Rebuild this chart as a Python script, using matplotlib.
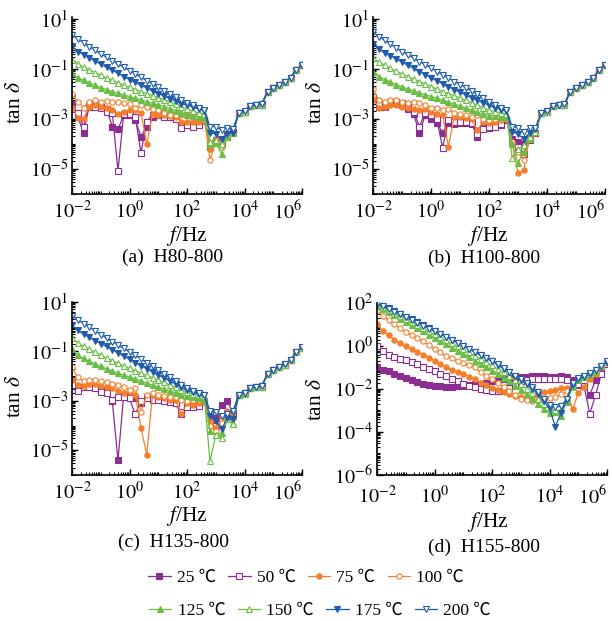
import numpy as np
import matplotlib
matplotlib.use("Agg")
import matplotlib.pyplot as plt
from matplotlib.ticker import FixedLocator, LogLocator, NullFormatter, FuncFormatter
from matplotlib.lines import Line2D

plt.rcParams['font.family'] = ['Liberation Serif', 'Noto Sans CJK SC', 'DejaVu Sans']
plt.rcParams['mathtext.fontset'] = 'stix'

# measurement frequencies, log10(f / Hz), 5 points per decade
LOG_F = [-2.0, -1.8, -1.6, -1.4, -1.2, -1.0, -0.8, -0.6, -0.4, -0.2,
         0.0, 0.2, 0.4, 0.6, 0.8, 1.0, 1.2, 1.4, 1.6, 1.8,
         2.0, 2.2, 2.4, 2.6, 2.8, 3.0, 3.2, 3.4, 3.6, 3.8,
         4.0, 4.2, 4.4, 4.6, 4.8, 5.0, 5.2, 5.4, 5.6, 5.8, 6.0]

TEMPS = ['25', '50', '75', '100', '125', '150', '175', '200']

# log10(tan delta) for each temperature
# (a) H80-800
A_25 = [-2.4, -2.9, -3.55, -2.45, -2.45, -2.5, -2.6, -3.3, -3.4, -2.85,
        -2.85, -3.05, -3.7, -3.3, -2.9, -2.85, -2.85, -2.9, -2.9, -3.2,
        -3.2, -3.25, -3.2, -3.05, -4.1, -3.85, -4.0, -3.7, -3.5, -2.76,
        -2.7, -2.48, -2.44, -2.42, -1.91, -1.75, -1.65, -1.53, -1.36, -1.03, -0.85]
A_50 = [-2.6, -2.75, -3.3, -2.5, -2.5, -2.55, -2.7, -2.75, -5.07, -2.8,
        -2.8, -2.9, -4.35, -3.1, -2.85, -2.85, -2.9, -2.9, -3.0, -3.35,
        -3.25, -3.3, -3.25, -3.05, -4.0, -3.9, -3.95, -3.65, -3.5, -2.76,
        -2.7, -2.48, -2.44, -2.42, -1.91, -1.75, -1.65, -1.53, -1.36, -1.03, -0.85]
A_75 = [-2.55, -2.95, -3.0, -2.5, -2.45, -2.5, -2.55, -2.65, -2.8, -2.7,
        -2.65, -2.65, -2.75, -4.0, -2.8, -2.85, -2.85, -2.88, -2.9, -3.1,
        -3.1, -3.1, -3.1, -3.0, -4.2, -3.8, -4.0, -3.65, -3.5, -2.76,
        -2.7, -2.48, -2.44, -2.42, -1.91, -1.75, -1.65, -1.53, -1.36, -1.03, -0.85]
A_100 = [-2.0, -2.3, -2.55, -2.3, -2.25, -2.3, -2.27, -2.3, -2.33, -2.35,
         -2.4, -2.55, -2.45, -2.5, -2.6, -2.65, -2.75, -2.85, -2.85, -2.85,
         -2.85, -2.83, -2.85, -2.9, -4.64, -3.9, -4.1, -3.7, -3.55, -2.76,
         -2.7, -2.48, -2.44, -2.42, -1.91, -1.75, -1.65, -1.53, -1.36, -1.03, -0.85]
A_125 = [-1.15, -1.35, -1.45, -1.55, -1.65, -1.74, -1.82, -1.9, -1.97, -2.04,
         -2.1, -2.17, -2.24, -2.3, -2.37, -2.43, -2.5, -2.58, -2.66, -2.74,
         -2.82, -2.87, -2.9, -2.93, -4.0, -3.95, -4.4, -3.7, -3.55, -2.77,
         -2.71, -2.49, -2.45, -2.43, -1.91, -1.75, -1.65, -1.53, -1.36, -1.03, -0.85]
A_150 = [-0.62, -0.8, -0.92, -1.03, -1.14, -1.25, -1.35, -1.45, -1.55, -1.64,
         -1.73, -1.82, -1.9, -1.98, -2.06, -2.14, -2.22, -2.3, -2.4, -2.5,
         -2.6, -2.68, -2.75, -2.8, -3.9, -3.85, -4.0, -3.6, -3.5, -2.76,
         -2.7, -2.48, -2.44, -2.42, -1.9, -1.75, -1.65, -1.53, -1.36, -1.03, -0.85]
A_175 = [-0.08, -0.3, -0.42, -0.55, -0.68, -0.8, -0.93, -1.05, -1.17, -1.3,
         -1.42, -1.53, -1.65, -1.76, -1.88, -1.98, -2.08, -2.18, -2.28, -2.38,
         -2.45, -2.52, -2.6, -2.66, -3.55, -3.6, -3.8, -3.6, -3.55, -2.75,
         -2.69, -2.47, -2.43, -2.41, -1.9, -1.74, -1.64, -1.52, -1.35, -1.02, -0.84]
A_200 = [0.36, 0.2, 0.05, -0.1, -0.25, -0.4, -0.53, -0.67, -0.8, -0.93,
         -1.06, -1.2, -1.33, -1.46, -1.6, -1.73, -1.87, -2.0, -2.12, -2.25,
         -2.37, -2.45, -2.55, -2.62, -3.3, -3.3, -3.45, -3.35, -3.4, -2.75,
         -2.69, -2.47, -2.43, -2.41, -1.9, -1.74, -1.64, -1.52, -1.35, -1.02, -0.84]

# (b) H100-800
B_25 = [-2.2, -2.5, -2.5, -2.35, -2.35, -2.45, -2.6, -2.8, -3.55, -2.85,
        -3.0, -3.15, -3.55, -3.15, -3.2, -3.15, -3.15, -3.2, -3.7, -3.35,
        -3.35, -3.3, -3.25, -3.05, -3.8, -3.9, -4.0, -3.85, -3.55, -2.76,
        -2.7, -2.48, -2.44, -2.42, -1.91, -1.75, -1.65, -1.53, -1.36, -1.03, -0.85]
B_50 = [-2.1, -2.45, -2.4, -2.3, -2.3, -2.35, -2.5, -2.7, -3.3, -2.75,
        -2.85, -3.0, -4.15, -3.05, -3.1, -3.1, -3.1, -3.15, -3.6, -3.4,
        -3.3, -3.3, -3.2, -3.0, -3.9, -4.1, -4.4, -3.75, -3.55, -2.76,
        -2.7, -2.48, -2.44, -2.42, -1.91, -1.75, -1.65, -1.53, -1.36, -1.03, -0.85]
B_75 = [-2.2, -2.55, -2.5, -2.45, -2.45, -2.5, -2.55, -2.6, -2.65, -2.6,
        -2.7, -2.8, -2.85, -4.1, -2.9, -2.9, -2.95, -3.0, -3.45, -3.1,
        -3.15, -3.1, -3.05, -3.0, -4.0, -5.15, -5.05, -3.7, -3.5, -2.76,
        -2.7, -2.48, -2.44, -2.42, -1.91, -1.75, -1.65, -1.53, -1.36, -1.03, -0.85]
B_100 = [-1.8, -2.25, -2.3, -2.25, -2.25, -2.3, -2.35, -2.3, -2.35, -2.45,
         -2.55, -2.55, -2.65, -2.6, -2.75, -2.8, -2.85, -2.9, -2.85, -3.0,
         -3.05, -3.0, -3.0, -2.95, -3.9, -4.3, -4.65, -3.8, -3.55, -2.76,
         -2.7, -2.48, -2.44, -2.42, -1.91, -1.75, -1.65, -1.53, -1.36, -1.03, -0.85]
B_125 = [-1.1, -1.3, -1.42, -1.52, -1.62, -1.72, -1.8, -1.88, -1.95, -2.03,
         -2.1, -2.17, -2.25, -2.33, -2.4, -2.48, -2.56, -2.64, -2.72, -2.8,
         -2.86, -2.88, -2.9, -2.92, -4.0, -4.75, -4.3, -3.8, -3.5, -2.77,
         -2.71, -2.49, -2.45, -2.43, -1.91, -1.75, -1.65, -1.53, -1.36, -1.03, -0.85]
B_150 = [-0.55, -0.72, -0.85, -0.97, -1.08, -1.2, -1.3, -1.4, -1.5, -1.6,
         -1.7, -1.8, -1.9, -1.98, -2.07, -2.15, -2.25, -2.35, -2.45, -2.55,
         -2.65, -2.7, -2.75, -2.8, -4.55, -4.2, -4.05, -3.7, -3.5, -2.76,
         -2.7, -2.48, -2.44, -2.42, -1.9, -1.75, -1.65, -1.53, -1.36, -1.03, -0.85]
B_175 = [0.0, -0.2, -0.35, -0.47, -0.6, -0.72, -0.85, -0.97, -1.1, -1.22,
         -1.35, -1.47, -1.58, -1.7, -1.82, -1.93, -2.04, -2.15, -2.25, -2.35,
         -2.45, -2.55, -2.62, -2.68, -3.5, -3.6, -3.8, -3.55, -3.4, -2.75,
         -2.69, -2.47, -2.43, -2.41, -1.9, -1.74, -1.64, -1.52, -1.35, -1.02, -0.84]
B_200 = [0.47, 0.3, 0.15, 0.0, -0.15, -0.3, -0.43, -0.56, -0.7, -0.83,
         -0.96, -1.1, -1.23, -1.36, -1.5, -1.62, -1.75, -1.88, -2.0, -2.15,
         -2.3, -2.45, -2.57, -2.65, -3.3, -3.35, -3.5, -3.35, -3.35, -2.75,
         -2.69, -2.47, -2.43, -2.41, -1.9, -1.74, -1.64, -1.52, -1.35, -1.02, -0.84]

# (c) H135-800
C_25 = [-2.2, -2.5, -2.45, -2.4, -2.45, -2.6, -2.55, -3.0, -5.41, -2.75,
        -2.8, -2.9, -3.1, -2.85, -2.85, -2.9, -2.95, -3.05, -3.1, -3.55,
        -3.2, -3.2, -3.15, -3.0, -3.45, -3.7, -3.15, -3.0, -3.5, -2.76,
        -2.7, -2.48, -2.44, -2.42, -1.91, -1.75, -1.65, -1.53, -1.36, -1.03, -0.85]
C_50 = [-2.35, -2.6, -2.45, -2.45, -2.5, -2.65, -2.7, -2.95, -2.85, -2.85,
        -2.9, -3.55, -3.0, -2.9, -2.95, -2.95, -3.0, -3.05, -3.1, -3.45,
        -3.25, -3.25, -3.2, -3.0, -3.5, -4.0, -3.7, -3.5, -3.6, -2.76,
        -2.7, -2.48, -2.44, -2.42, -1.91, -1.75, -1.65, -1.53, -1.36, -1.03, -0.85]
C_75 = [-2.15, -2.35, -2.4, -2.3, -2.3, -2.4, -2.45, -2.5, -2.6, -2.7,
        -2.65, -2.75, -4.1, -5.18, -2.75, -2.85, -2.9, -2.95, -2.95, -3.55,
        -3.1, -3.15, -3.1, -3.0, -3.8, -4.1, -3.6, -3.4, -3.6, -2.76,
        -2.7, -2.48, -2.44, -2.42, -1.91, -1.75, -1.65, -1.53, -1.36, -1.03, -0.85]
C_100 = [-1.65, -2.05, -2.2, -2.15, -2.15, -2.2, -2.25, -2.3, -2.35, -2.45,
         -2.55, -2.5, -3.45, -2.75, -2.7, -2.75, -2.8, -2.85, -2.85, -2.95,
         -3.0, -2.95, -2.95, -2.95, -4.0, -4.2, -3.9, -3.55, -3.7, -2.76,
         -2.7, -2.48, -2.44, -2.42, -1.91, -1.75, -1.65, -1.53, -1.36, -1.03, -0.85]
C_125 = [-0.92, -1.15, -1.28, -1.4, -1.5, -1.6, -1.7, -1.8, -1.88, -1.96,
         -2.04, -2.12, -2.2, -2.28, -2.36, -2.44, -2.52, -2.6, -2.68, -2.76,
         -2.82, -2.86, -2.9, -2.92, -4.2, -4.4, -4.3, -3.7, -3.9, -2.77,
         -2.71, -2.49, -2.45, -2.43, -1.91, -1.75, -1.65, -1.53, -1.36, -1.03, -0.85]
C_150 = [-0.45, -0.65, -0.8, -0.92, -1.03, -1.15, -1.26, -1.37, -1.48, -1.58,
         -1.68, -1.78, -1.88, -1.97, -2.06, -2.15, -2.25, -2.35, -2.45, -2.55,
         -2.65, -2.72, -2.78, -2.82, -5.45, -4.4, -4.5, -3.75, -3.95, -2.76,
         -2.7, -2.48, -2.44, -2.42, -1.9, -1.75, -1.65, -1.53, -1.36, -1.03, -0.85]
C_175 = [0.05, -0.15, -0.3, -0.43, -0.56, -0.68, -0.8, -0.93, -1.06, -1.19,
         -1.32, -1.45, -1.58, -1.7, -1.83, -1.95, -2.07, -2.2, -2.32, -2.45,
         -2.58, -2.66, -2.72, -2.77, -3.6, -3.8, -4.15, -3.7, -3.75, -2.75,
         -2.69, -2.47, -2.43, -2.41, -1.9, -1.74, -1.64, -1.52, -1.35, -1.02, -0.84]
C_200 = [0.45, 0.28, 0.13, -0.02, -0.17, -0.32, -0.46, -0.6, -0.74, -0.88,
         -1.02, -1.16, -1.3, -1.45, -1.6, -1.75, -1.9, -2.05, -2.2, -2.35,
         -2.5, -2.6, -2.7, -2.75, -3.4, -3.45, -3.6, -3.55, -3.4, -2.75,
         -2.69, -2.47, -2.43, -2.41, -1.9, -1.74, -1.64, -1.52, -1.35, -1.02, -0.84]

# (d) H155-800
D_25 = [-0.98, -1.1, -1.18, -1.29, -1.41, -1.49, -1.6, -1.69, -1.75, -1.82,
        -1.85, -1.88, -1.93, -1.93, -1.88, -1.84, -1.81, -1.78, -1.76, -1.72,
        -1.65, -1.58, -1.52, -1.48, -1.45, -1.42, -1.42, -1.41, -1.41, -1.41,
        -1.42, -1.42, -1.41, -1.42, -1.6, -1.8, -1.85, -2.27, -1.6, -1.1, -0.85]
D_50 = [-0.02, -0.25, -0.4, -0.5, -0.6, -0.66, -0.75, -0.86, -0.98, -1.07,
        -1.18, -1.29, -1.41, -1.53, -1.64, -1.75, -1.84, -1.93, -2.0, -2.05,
        -2.08, -2.08, -2.05, -1.95, -1.8, -1.65, -1.58, -1.55, -1.55, -1.55,
        -1.55, -1.55, -1.55, -1.58, -1.7, -1.75, -1.85, -3.15, -2.3, -1.3, -0.85]
D_75 = [1.0, 0.7, 0.5, 0.3, 0.12, -0.02, -0.15, -0.28, -0.4, -0.55,
        -0.7, -0.85, -1.0, -1.1, -1.2, -1.3, -1.42, -1.55, -1.7, -1.82,
        -1.95, -2.05, -2.15, -2.25, -2.32, -2.38, -2.4, -2.35, -2.25, -2.15,
        -2.1, -2.05, -1.95, -1.95, -2.95, -2.2, -1.9, -1.55, -1.3, -1.0, -0.78]
D_100 = [1.65, 1.4, 1.2, 1.0, 0.82, 0.65, 0.5, 0.35, 0.22, 0.05,
         -0.12, -0.3, -0.45, -0.58, -0.7, -0.8, -0.9, -1.0, -1.2, -1.4,
         -1.55, -1.7, -1.9, -2.1, -2.3, -2.45, -2.5, -2.55, -2.5, -2.45,
         -2.4, -2.35, -2.25, -2.1, -1.8, -1.6, -1.45, -1.3, -1.15, -0.95, -0.75]
D_125 = [1.88, 1.72, 1.57, 1.42, 1.27, 1.12, 0.97, 0.82, 0.68, 0.53,
         0.38, 0.23, 0.08, -0.07, -0.22, -0.37, -0.52, -0.68, -0.84, -1.0,
         -1.15, -1.3, -1.47, -1.65, -1.85, -2.05, -2.25, -2.45, -2.7, -2.95,
         -3.1, -3.05, -3.25, -2.6, -1.9, -1.6, -1.45, -1.3, -1.15, -0.95, -0.75]
D_150 = [1.95, 1.8, 1.66, 1.52, 1.38, 1.24, 1.1, 0.96, 0.82, 0.68,
         0.54, 0.4, 0.26, 0.12, -0.02, -0.16, -0.3, -0.45, -0.6, -0.75,
         -0.9, -1.06, -1.22, -1.4, -1.58, -1.78, -1.98, -2.2, -2.45, -2.7,
         -2.9, -3.0, -3.0, -2.5, -1.8, -1.55, -1.42, -1.28, -1.12, -0.95, -0.75]
D_175 = [2.05, 1.9, 1.76, 1.63, 1.5, 1.37, 1.24, 1.11, 0.97, 0.84,
         0.7, 0.57, 0.43, 0.29, 0.15, 0.0, -0.14, -0.28, -0.44, -0.58,
         -0.72, -0.88, -1.05, -1.22, -1.4, -1.58, -1.78, -2.0, -2.25, -2.55,
         -2.9, -3.75, -3.1, -2.5, -1.8, -1.55, -1.42, -1.28, -1.12, -0.95, -0.75]
D_200 = [1.95, 1.85, 1.72, 1.6, 1.47, 1.34, 1.2, 1.07, 0.94, 0.81,
         0.68, 0.55, 0.42, 0.29, 0.15, 0.02, -0.12, -0.26, -0.4, -0.55,
         -0.68, -0.85, -1.02, -1.2, -1.38, -1.55, -1.72, -1.9, -2.15, -2.45,
         -2.75, -2.85, -2.8, -2.45, -1.7, -1.5, -1.4, -1.25, -1.1, -0.95, -0.72]

PURPLE = '#8C2D91'
ORANGE = '#F47F2A'
GREEN = '#6BBE45'
BLUE = '#1F5CAD'

STYLES = {
    '25':  dict(color=PURPLE, marker='s', filled=True),
    '50':  dict(color=PURPLE, marker='s', filled=False),
    '75':  dict(color=ORANGE, marker='o', filled=True),
    '100': dict(color=ORANGE, marker='o', filled=False),
    '125': dict(color=GREEN, marker='^', filled=True),
    '150': dict(color=GREEN, marker='^', filled=False),
    '175': dict(color=BLUE, marker='v', filled=True),
    '200': dict(color=BLUE, marker='v', filled=False),
}

PANELS = [
    dict(series=[A_25, A_50, A_75, A_100, A_125, A_150, A_175, A_200],
         rect=[72, 17, 230, 177], ylim=(-6, 1.08), yt=[1, -1, -3, -5], xpad=5,
         caption='(a)  H80-800', ylab=(16, 102), xlab=(187, 236), cap=(173, 257)),
    dict(series=[B_25, B_50, B_75, B_100, B_125, B_150, B_175, B_200],
         rect=[373, 17, 232, 177], ylim=(-6, 1.08), yt=[1, -1, -3, -5], xpad=5,
         caption='(b)  H100-800', ylab=(316, 102), xlab=(488, 236), cap=(484, 258)),
    dict(series=[C_25, C_50, C_75, C_100, C_125, C_150, C_175, C_200],
         rect=[72, 302, 230, 173], ylim=(-6, 1.0), yt=[1, -1, -3, -5], xpad=5,
         caption='(c)  H135-800', ylab=(16, 396), xlab=(187, 516), cap=(174, 542)),
    dict(series=[D_25, D_50, D_75, D_100, D_125, D_150, D_175, D_200],
         rect=[377, 303, 230, 172], ylim=(-6, 2.0), yt=[2, 0, -2, -4, -6], xpad=8,
         caption='(d)  H155-800', ylab=(316, 399), xlab=(488, 522), cap=(484, 547)),
]

W, H = 612, 621
fig = plt.figure(figsize=(W / 100, H / 100), dpi=100)
freq = 10.0 ** np.array(LOG_F)


def line_kw(t):
    s = STYLES[t]
    return dict(color=s['color'], marker=s['marker'], markersize=4.2 if s['marker'] in '^v' else 3.8,
                markeredgewidth=0.8, linewidth=0.9,
                markerfacecolor=s['color'] if s['filled'] else 'white',
                markeredgecolor=s['color'])


for p in PANELS:
    x0, y0, w, h = p['rect']
    ax = fig.add_axes([x0 / W, 1 - (y0 + h) / H, w / W, h / H])
    for t, vals in zip(TEMPS, p['series']):
        ax.plot(freq, 10.0 ** np.array(vals), **line_kw(t))
    ax.set_xscale('log')
    ax.set_yscale('log')
    ax.set_xlim(1e-2, 1e6)
    ax.set_ylim(10 ** p['ylim'][0], 10 ** p['ylim'][1])
    ax.xaxis.set_major_locator(FixedLocator([1e-2, 1e0, 1e2, 1e4, 1e6]))
    ax.yaxis.set_major_locator(FixedLocator([10.0 ** e for e in p['yt']]))
    fmt = FuncFormatter(lambda v, pos: r'$10^{%d}$' % int(round(np.log10(v))))
    ax.xaxis.set_major_formatter(fmt)
    ax.yaxis.set_major_formatter(fmt)
    for axis in (ax.xaxis, ax.yaxis):
        axis.set_minor_locator(LogLocator(base=10, subs=np.arange(1, 10), numticks=100))
        axis.set_minor_formatter(NullFormatter())
    ax.spines['top'].set_visible(False)
    ax.spines['right'].set_visible(False)
    for sp in ('left', 'bottom'):
        ax.spines[sp].set_linewidth(1.2)
    ax.tick_params(which='major', direction='in', length=4, width=1.0, labelsize=14.5)
    ax.tick_params(which='minor', direction='in', length=2.2, width=0.8)
    ax.tick_params(axis='x', which='major', pad=p['xpad'])
    ax.tick_params(axis='y', which='major', pad=3)
    ax.patch.set_alpha(0)
    # keep the last frequency label inside the panel
    ax.get_xticklabels()[-1].set_horizontalalignment('right')

    fig.text(p['ylab'][0] / W, 1 - p['ylab'][1] / H, r'tan $\delta$', rotation=90,
             ha='center', va='center', fontsize=15.5)
    fig.text(p['xlab'][0] / W, 1 - p['xlab'][1] / H, r'$f$/Hz',
             ha='center', va='center', fontsize=15.5)
    fig.text(p['cap'][0] / W, 1 - p['cap'][1] / H, p['caption'],
             ha='center', va='center', fontsize=14)


def handles(temps):
    return [Line2D([], [], **line_kw(t)) for t in temps]


leg_kw = dict(ncol=4, frameon=False, fontsize=12.5, handlelength=1.3, handletextpad=0.35,
              columnspacing=0.7, borderpad=0, loc='center')
l1 = fig.legend(handles(TEMPS[:4]), [t + ' ℃' for t in TEMPS[:4]],
                bbox_to_anchor=(306 / W, 1 - 578 / H), **leg_kw)
l2 = fig.legend(handles(TEMPS[4:]), [t + ' ℃' for t in TEMPS[4:]],
                bbox_to_anchor=(320 / W, 1 - 611 / H), **leg_kw)

fig.savefig('out.png', dpi=100)
